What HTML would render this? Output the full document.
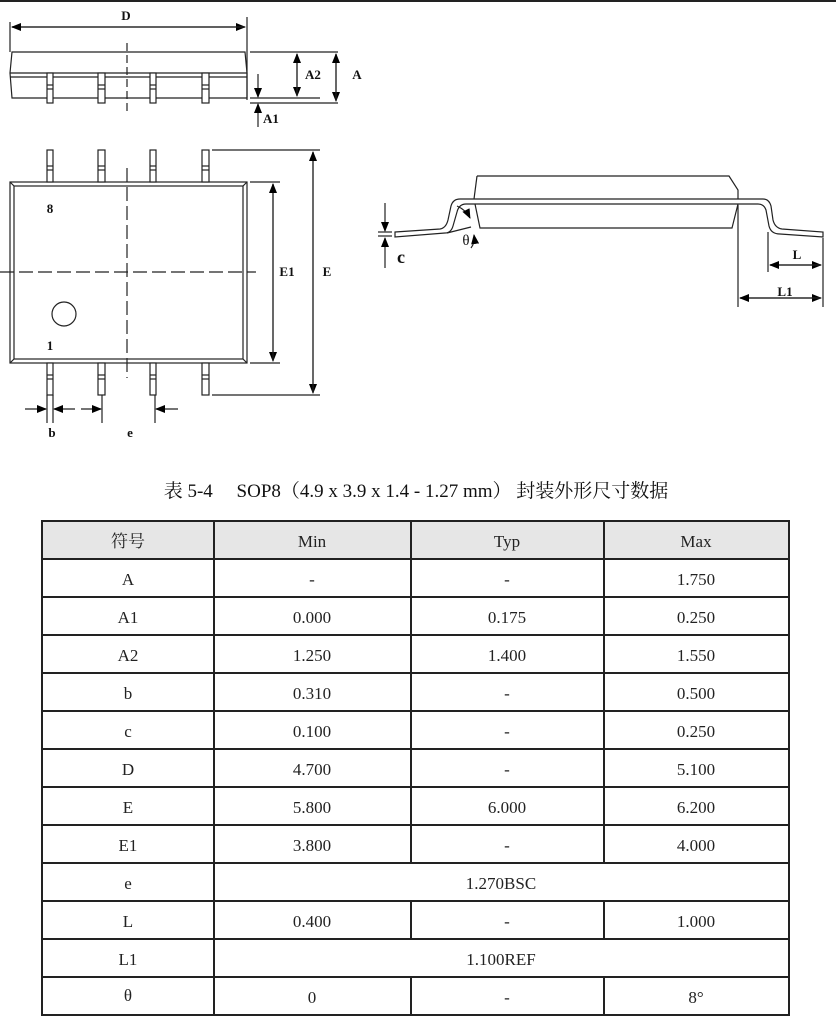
<!DOCTYPE html>
<html><head><meta charset="utf-8"><style>
html,body{margin:0;padding:0;background:#fff;}
svg{display:block;}
.t{font-family:"Liberation Serif","Noto Serif CJK SC",serif;}
.b{font-family:"Liberation Serif",serif;font-weight:bold;font-size:13px;}
</style></head><body>
<svg width="836" height="1024" viewBox="0 0 836 1024" xmlns="http://www.w3.org/2000/svg">
<defs>
<marker id="ar" markerWidth="10" markerHeight="8" refX="9" refY="4" orient="auto" markerUnits="userSpaceOnUse"><path d="M0,0 L10,4 L0,8 Z" fill="#000"/></marker>
</defs>
<rect x="0" y="0" width="836" height="2" fill="#222"/>
<g stroke="#222" stroke-width="1.2" fill="none">
<path d="M12,52 L245,52 L247,73 L247,98 L12,98 L10,73 Z"/>
<line x1="10" y1="73" x2="247" y2="73"/><line x1="10" y1="77" x2="247" y2="77"/>
<g fill="#fff">
<rect x="47" y="73" width="6" height="30"/><rect x="98" y="73" width="7" height="30"/><rect x="150" y="73" width="6" height="30"/><rect x="202" y="73" width="7" height="30"/>
</g>
<line x1="47" y1="85" x2="53" y2="85"/><line x1="47" y1="89" x2="53" y2="89"/>
<line x1="98" y1="85" x2="105" y2="85"/><line x1="98" y1="89" x2="105" y2="89"/>
<line x1="150" y1="85" x2="156" y2="85"/><line x1="150" y1="89" x2="156" y2="89"/>
<line x1="202" y1="85" x2="209" y2="85"/><line x1="202" y1="89" x2="209" y2="89"/>
<line x1="127" y1="43" x2="127" y2="112" stroke-dasharray="8,4"/>
<line x1="10" y1="22" x2="10" y2="52"/><line x1="247" y1="17" x2="247" y2="100"/>
<line x1="12" y1="27" x2="245" y2="27" marker-end="url(#ar)"/><line x1="245" y1="27" x2="12" y2="27" marker-end="url(#ar)"/>
<line x1="250" y1="52" x2="338" y2="52"/><line x1="250" y1="98" x2="320" y2="98"/><line x1="250" y1="103" x2="338" y2="103"/>
<line x1="297" y1="54" x2="297" y2="96" marker-end="url(#ar)"/><line x1="297" y1="96" x2="297" y2="54" marker-end="url(#ar)"/>
<line x1="336" y1="54" x2="336" y2="101" marker-end="url(#ar)"/><line x1="336" y1="101" x2="336" y2="54" marker-end="url(#ar)"/>
<line x1="258" y1="74" x2="258" y2="97" marker-end="url(#ar)"/><line x1="258" y1="127" x2="258" y2="104" marker-end="url(#ar)"/>
<rect x="10" y="182" width="237" height="181"/>
<rect x="14" y="186" width="229" height="173"/>
<line x1="10" y1="182" x2="14" y2="186"/><line x1="247" y1="182" x2="243" y2="186"/><line x1="10" y1="363" x2="14" y2="359"/><line x1="247" y1="363" x2="243" y2="359"/>
<g fill="#fff">
<rect x="47" y="150" width="6" height="32"/><rect x="98" y="150" width="7" height="32"/><rect x="150" y="150" width="6" height="32"/><rect x="202" y="150" width="7" height="32"/>
<rect x="47" y="363" width="6" height="32"/><rect x="98" y="363" width="7" height="32"/><rect x="150" y="363" width="6" height="32"/><rect x="202" y="363" width="7" height="32"/>
</g>
<line x1="47" y1="166" x2="53" y2="166"/><line x1="47" y1="170" x2="53" y2="170"/><line x1="98" y1="166" x2="105" y2="166"/><line x1="98" y1="170" x2="105" y2="170"/>
<line x1="150" y1="166" x2="156" y2="166"/><line x1="150" y1="170" x2="156" y2="170"/><line x1="202" y1="166" x2="209" y2="166"/><line x1="202" y1="170" x2="209" y2="170"/>
<line x1="47" y1="375" x2="53" y2="375"/><line x1="47" y1="379" x2="53" y2="379"/><line x1="98" y1="375" x2="105" y2="375"/><line x1="98" y1="379" x2="105" y2="379"/>
<line x1="150" y1="375" x2="156" y2="375"/><line x1="150" y1="379" x2="156" y2="379"/><line x1="202" y1="375" x2="209" y2="375"/><line x1="202" y1="379" x2="209" y2="379"/>
<line x1="127" y1="168" x2="127" y2="378" stroke-dasharray="14,5"/>
<line x1="0" y1="272" x2="256" y2="272" stroke-dasharray="14,5"/>
<circle cx="64" cy="314" r="12"/>
<line x1="250" y1="182" x2="280" y2="182"/><line x1="250" y1="363" x2="280" y2="363"/>
<line x1="273" y1="184" x2="273" y2="361" marker-end="url(#ar)"/><line x1="273" y1="361" x2="273" y2="184" marker-end="url(#ar)"/>
<line x1="212" y1="150" x2="320" y2="150"/><line x1="212" y1="395" x2="320" y2="395"/>
<line x1="313" y1="152" x2="313" y2="393" marker-end="url(#ar)"/><line x1="313" y1="393" x2="313" y2="152" marker-end="url(#ar)"/>
<line x1="47" y1="395" x2="47" y2="423"/><line x1="53" y1="395" x2="53" y2="423"/><line x1="102" y1="395" x2="102" y2="423"/><line x1="155" y1="395" x2="155" y2="423"/>
<line x1="25" y1="409" x2="46" y2="409" marker-end="url(#ar)"/><line x1="75" y1="409" x2="54" y2="409" marker-end="url(#ar)"/>
<line x1="81" y1="409" x2="101" y2="409" marker-end="url(#ar)"/><line x1="178" y1="409" x2="156" y2="409" marker-end="url(#ar)"/>
<path d="M477,176 L729,176 L738,190 L738,204"/>
<path d="M477,176 L474,199"/><path d="M475,204 L480,228 L732,228 L738,204"/>
<path d="M395,232 L440,229 Q446,228 448,220 L451,206 Q453,199 460,199 L763,199 Q769,199 771,206 L773,220 Q775,228 782,229 L823,232 L823,237 L780,234 Q771,234 769,226 L766,210 Q764,204 758,204 L466,204 Q459,204 457,212 L453,226 Q451,233 445,233 L395,237 Z" fill="#fff"/>
<path d="M447,233 L471,227"/>
<path d="M457,206 Q466,210 470,218" marker-end="url(#ar)"/>
<path d="M471,248 Q475,243 474,235" marker-end="url(#ar)"/>
<line x1="378" y1="232" x2="392" y2="232"/><line x1="378" y1="236" x2="392" y2="236"/>
<line x1="385" y1="203" x2="385" y2="231" marker-end="url(#ar)"/><line x1="385" y1="268" x2="385" y2="238" marker-end="url(#ar)"/>
<line x1="738" y1="205" x2="738" y2="307"/><line x1="823" y1="238" x2="823" y2="307"/><line x1="768" y1="232" x2="768" y2="272"/>
<line x1="740" y1="298" x2="821" y2="298" marker-end="url(#ar)"/><line x1="821" y1="298" x2="740" y2="298" marker-end="url(#ar)"/>
<line x1="770" y1="265" x2="821" y2="265" marker-end="url(#ar)"/><line x1="821" y1="265" x2="770" y2="265" marker-end="url(#ar)"/>
</g>
<g class="b" fill="#111" text-anchor="middle">
<text x="126" y="20">D</text><text x="313" y="79">A2</text><text x="357" y="79">A</text><text x="271" y="123">A1</text>
<text x="50" y="213">8</text><text x="50" y="350">1</text><text x="287" y="276">E1</text><text x="327" y="276">E</text>
<text x="52" y="437">b</text><text x="130" y="437">e</text>
<text x="797" y="259">L</text><text x="785" y="296">L1</text>
<text x="401" y="263" style="font-size:18px">c</text>
<text x="466" y="245" style="font-weight:normal;font-size:15px">θ</text>
</g>
<text class="t" x="416" y="497" text-anchor="middle" font-size="19" fill="#111">表 5-4　 SOP8（4.9 x 3.9 x 1.4 - 1.27 mm） 封装外形尺寸数据</text>
<rect x="42" y="521" width="747" height="38" fill="#e6e6e6"/>
<g stroke="#222" stroke-width="2" fill="none">
<rect x="42" y="521" width="747" height="494"/>
<line x1="42" y1="559" x2="789" y2="559"/><line x1="42" y1="597" x2="789" y2="597"/><line x1="42" y1="635" x2="789" y2="635"/><line x1="42" y1="673" x2="789" y2="673"/>
<line x1="42" y1="711" x2="789" y2="711"/><line x1="42" y1="749" x2="789" y2="749"/><line x1="42" y1="787" x2="789" y2="787"/><line x1="42" y1="825" x2="789" y2="825"/>
<line x1="42" y1="863" x2="789" y2="863"/><line x1="42" y1="901" x2="789" y2="901"/><line x1="42" y1="939" x2="789" y2="939"/><line x1="42" y1="977" x2="789" y2="977"/>
<line x1="214" y1="521" x2="214" y2="1015"/>
<line x1="411" y1="521" x2="411" y2="863"/><line x1="604" y1="521" x2="604" y2="863"/>
<line x1="411" y1="901" x2="411" y2="939"/><line x1="604" y1="901" x2="604" y2="939"/>
<line x1="411" y1="977" x2="411" y2="1015"/><line x1="604" y1="977" x2="604" y2="1015"/>
</g>
<g class="t" font-size="17" fill="#222" text-anchor="middle">
<text x="128" y="547">符号</text><text x="312" y="547">Min</text><text x="507" y="547">Typ</text><text x="696" y="547">Max</text>
<text x="128" y="585">A</text><text x="312" y="585">-</text><text x="507" y="585">-</text><text x="696" y="585">1.750</text>
<text x="128" y="623">A1</text><text x="312" y="623">0.000</text><text x="507" y="623">0.175</text><text x="696" y="623">0.250</text>
<text x="128" y="661">A2</text><text x="312" y="661">1.250</text><text x="507" y="661">1.400</text><text x="696" y="661">1.550</text>
<text x="128" y="699">b</text><text x="312" y="699">0.310</text><text x="507" y="699">-</text><text x="696" y="699">0.500</text>
<text x="128" y="737">c</text><text x="312" y="737">0.100</text><text x="507" y="737">-</text><text x="696" y="737">0.250</text>
<text x="128" y="775">D</text><text x="312" y="775">4.700</text><text x="507" y="775">-</text><text x="696" y="775">5.100</text>
<text x="128" y="813">E</text><text x="312" y="813">5.800</text><text x="507" y="813">6.000</text><text x="696" y="813">6.200</text>
<text x="128" y="851">E1</text><text x="312" y="851">3.800</text><text x="507" y="851">-</text><text x="696" y="851">4.000</text>
<text x="128" y="889">e</text><text x="501" y="889">1.270BSC</text>
<text x="128" y="927">L</text><text x="312" y="927">0.400</text><text x="507" y="927">-</text><text x="696" y="927">1.000</text>
<text x="128" y="965">L1</text><text x="501" y="965">1.100REF</text>
<text x="128" y="1001">θ</text><text x="312" y="1003">0</text><text x="507" y="1003">-</text><text x="696" y="1003">8°</text>
</g>
</svg>
</body></html>
